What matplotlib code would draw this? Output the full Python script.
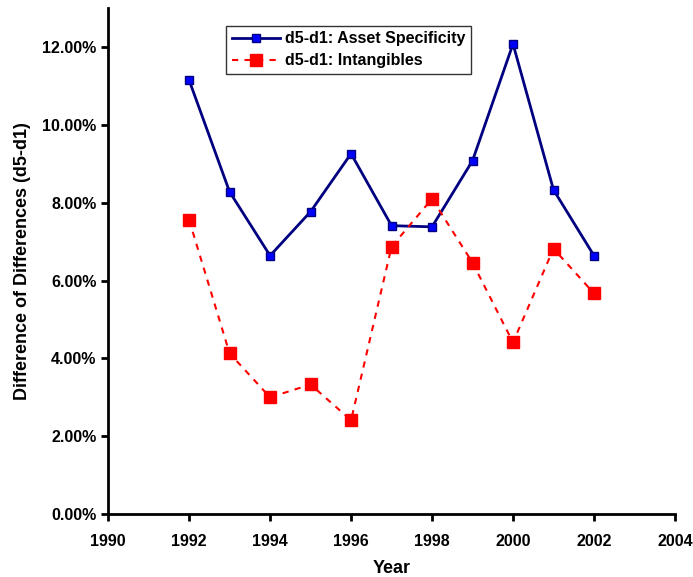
import matplotlib
matplotlib.use('Agg')
import matplotlib.pyplot as plt
from matplotlib.ticker import FuncFormatter

# data
years = [1992, 1993, 1994, 1995, 1996, 1997, 1998, 1999, 2000, 2001, 2002]
asset_spec = [0.1115, 0.0828, 0.0664, 0.0777, 0.0926, 0.0741, 0.0738, 0.0908, 0.1208, 0.0833, 0.0664]
intangibles = [0.0756, 0.0413, 0.0300, 0.0333, 0.0241, 0.0687, 0.0810, 0.0646, 0.0441, 0.0682, 0.0567]

plt.rcParams['font.family'] = ['Liberation Sans', 'DejaVu Sans']
plt.rcParams['font.weight'] = 'bold'

fig = plt.figure(figsize=(6.93, 5.77), dpi=100)
ax = fig.add_axes([0.156, 0.109, 0.818, 0.877])

ax.plot(years, asset_spec, color='#000080', lw=2, marker='s', ms=6,
        mfc='#0000ff', mec='#000080', label='d5-d1: Asset Specificity')
ax.plot(years, intangibles, color='#ff0000', lw=1.5, ls=(0, (3, 3)), marker='s', ms=8,
        mfc='#ff0000', mec='#ff0000', label='d5-d1: Intangibles')

ax.set_xlim(1990, 2004)
ax.set_ylim(0, 0.13)
ax.set_xticks(range(1990, 2005, 2))
ax.set_yticks([0.02 * i for i in range(7)])
ax.yaxis.set_major_formatter(FuncFormatter(lambda v, p: '%.2f%%' % (v * 100)))

for s in ['top', 'right']:
    ax.spines[s].set_visible(False)
for s in ['left', 'bottom']:
    ax.spines[s].set_linewidth(2)
ax.tick_params(width=2, length=5, labelsize=11.5)
ax.tick_params(axis='x', pad=9)
for lab in ax.get_xticklabels() + ax.get_yticklabels():
    lab.set_fontweight('bold')

ax.set_xlabel('Year', fontsize=13, fontweight='bold', labelpad=8)
ax.set_ylabel('Difference of Differences (d5-d1)', fontsize=13, fontweight='bold', labelpad=8)

leg = ax.legend(loc='upper left', bbox_to_anchor=(0.2, 0.975), frameon=True, fancybox=False,
                edgecolor='black', fontsize=11.5, handlelength=3.0, borderpad=0.35,
                labelspacing=0.45, handletextpad=0.3, borderaxespad=0.3)
leg.get_frame().set_linewidth(1)
for t in leg.get_texts():
    t.set_fontweight('bold')

fig.savefig('out.png', dpi=100)
